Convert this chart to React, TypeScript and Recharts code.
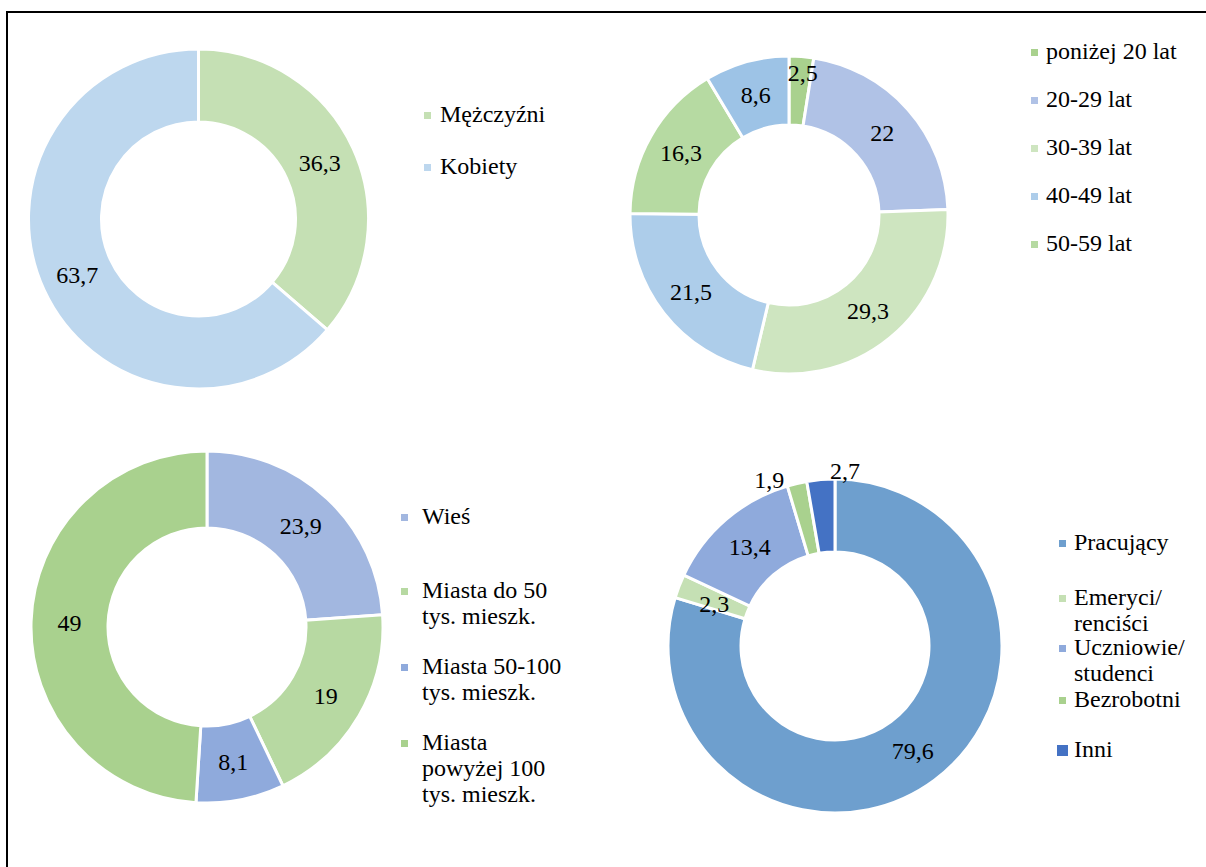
import { PieChart, Pie, Cell } from 'recharts';

// Płeć
const genderNames = ['Mężczyźni', 'Kobiety'];
const genderValues = [36.3, 63.7];

// Wiek (ostatni wycinek nie ma pozycji w legendzie)
const ageNames = ['poniżej 20 lat', '20-29 lat', '30-39 lat', '40-49 lat', '50-59 lat', '60 lat i więcej'];
const ageValues = [2.5, 22, 29.3, 21.5, 16.3, 8.6];
const ageLegendCount = 5;

// Miejsce zamieszkania
const placeNames = [
  ['Wieś'],
  ['Miasta do 50', 'tys. mieszk.'],
  ['Miasta 50-100', 'tys. mieszk.'],
  ['Miasta', 'powyżej 100', 'tys. mieszk.'],
];
const placeValues = [23.9, 19, 8.1, 49];

// Status zawodowy
const jobNames = [['Pracujący'], ['Emeryci/', 'renciści'], ['Uczniowie/', 'studenci'], ['Bezrobotni'], ['Inni']];
const jobValues = [79.6, 2.3, 13.4, 1.9, 2.7];

const FONT = "'Liberation Serif', 'Times New Roman', serif";
const RADIAN = Math.PI / 180;

const fmt = (v: number) => String(v).replace('.', ',');

type Shift = { dx: number; dy: number };

interface DonutProps {
  left: number;
  top: number;
  width: number;
  height: number;
  cx: number;
  cy: number;
  inner: number;
  outer: number;
  names: string[];
  values: number[];
  colors: string[];
  shifts?: Record<number, Shift>;
}

function Donut({ left, top, width, height, cx, cy, inner, outer, names, values, colors, shifts = {} }: DonutProps) {
  const data = names.map((name, i) => ({ name, value: values[i] }));

  const renderLabel = (p: any) => {
    const r = (p.innerRadius + p.outerRadius) / 2;
    const s = shifts[p.index] || { dx: 0, dy: 0 };
    const x = p.cx + r * Math.cos(-p.midAngle * RADIAN) + s.dx;
    const y = p.cy + r * Math.sin(-p.midAngle * RADIAN) + s.dy;
    return (
      <text
        x={x}
        y={y}
        textAnchor="middle"
        dominantBaseline="central"
        fill="#000"
        style={{ fontFamily: FONT, fontSize: 24 }}
      >
        {fmt(values[p.index])}
      </text>
    );
  };

  return (
    <div style={{ position: 'absolute', left, top }}>
      <PieChart width={width} height={height} margin={{ top: 0, right: 0, bottom: 0, left: 0 }}>
        <Pie
          data={data}
          dataKey="value"
          cx={cx}
          cy={cy}
          innerRadius={inner}
          outerRadius={outer}
          startAngle={90}
          endAngle={-270}
          stroke="#fff"
          strokeWidth={3}
          label={renderLabel}
          labelLine={false}
          isAnimationActive={false}
        >
          {data.map((d, i) => (
            <Cell key={d.name} fill={colors[i]} />
          ))}
        </Pie>
      </PieChart>
    </div>
  );
}

interface LegendItem {
  lines: string[];
  color: string;
  y: number;
  size?: number;
}

function SideLegend({ x, textX, items }: { x: number; textX: number; items: LegendItem[] }) {
  return (
    <>
      {items.map((it, i) => {
        const size = it.size ?? 7;
        return (
          <div key={i}>
            <div
              style={{
                position: 'absolute',
                left: x - size / 2,
                top: it.y - size / 2,
                width: size,
                height: size,
                background: it.color,
              }}
            />
            <div
              style={{
                position: 'absolute',
                left: textX,
                top: it.y - 14,
                fontFamily: FONT,
                fontSize: 24,
                lineHeight: '26px',
                color: '#000',
                whiteSpace: 'nowrap',
              }}
            >
              {it.lines.map((l, j) => (
                <div key={j}>{l}</div>
              ))}
            </div>
          </div>
        );
      })}
    </>
  );
}

const genderColors = ['#C5E0B4', '#BDD7EE'];
const ageColors = ['#A9D18E', '#B0C2E6', '#CEE5C0', '#ADCDEA', '#B6DAA2', '#9DC3E6'];
const placeColors = ['#A2B7E0', '#B7D9A2', '#8FAADC', '#A9D18E'];
const jobColors = ['#6E9FCE', '#C5E0B4', '#8FAADC', '#A9D18E', '#4472C4'];

export default function App() {
  return (
    <div
      style={{
        position: 'absolute',
        left: 0,
        top: 0,
        width: 1206,
        height: 867,
        overflow: 'hidden',
        background: '#fff',
        fontFamily: FONT,
      }}
    >
      <div
        style={{
          position: 'absolute',
          left: 6,
          top: 11,
          width: 1300,
          height: 1000,
          border: '2px solid #000',
        }}
      />

      <Donut
        left={0}
        top={0}
        width={400}
        height={430}
        cx={198.5}
        cy={219}
        inner={97}
        outer={170}
        names={genderNames}
        values={genderValues}
        colors={genderColors}
      />
      <SideLegend
        x={427}
        textX={440}
        items={genderNames.map((n, i) => ({ lines: [n], color: genderColors[i], y: [115, 167][i] }))}
      />

      <Donut
        left={600}
        top={0}
        width={400}
        height={430}
        cx={189}
        cy={215}
        inner={90}
        outer={159}
        names={ageNames}
        values={ageValues}
        colors={ageColors}
        shifts={{ 0: { dx: 4, dy: -18 } }}
      />
      <SideLegend
        x={1034}
        textX={1046}
        items={ageNames.slice(0, ageLegendCount).map((n, i) => ({
          lines: [n],
          color: ageColors[i],
          y: 52 + i * 48,
        }))}
      />

      <Donut
        left={0}
        top={430}
        width={400}
        height={437}
        cx={207}
        cy={197}
        inner={99}
        outer={176}
        names={placeNames.map((l) => l.join(' '))}
        values={placeValues}
        colors={placeColors}
      />
      <SideLegend
        x={404}
        textX={422}
        items={placeNames.map((l, i) => ({ lines: l, color: placeColors[i], y: [517, 591, 667, 743][i] }))}
      />

      <Donut
        left={600}
        top={430}
        width={450}
        height={437}
        cx={235}
        cy={216}
        inner={94}
        outer={167}
        names={jobNames.map((l) => l.join(' '))}
        values={jobValues}
        colors={jobColors}
        shifts={{ 1: { dx: 1, dy: 5 }, 3: { dx: -36, dy: -39 }, 4: { dx: 21, dy: -45 } }}
      />
      <SideLegend
        x={1062}
        textX={1074}
        items={jobNames.map((l, i) => ({
          lines: l,
          color: jobColors[i],
          y: [543, 598, 648, 700, 750][i],
          size: i === 4 ? 11 : 7,
        }))}
      />
    </div>
  );
}
